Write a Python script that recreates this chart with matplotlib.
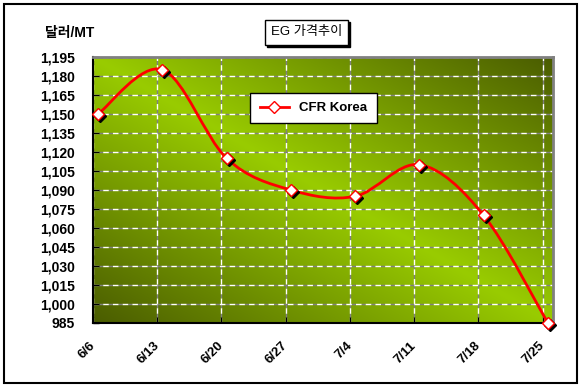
import numpy as np
import matplotlib.pyplot as plt
from matplotlib.path import Path
from matplotlib.patches import PathPatch, Rectangle
from matplotlib.lines import Line2D
from matplotlib.transforms import offset_copy, ScaledTranslation

plt.rcParams['font.family'] = ['Liberation Sans', 'Noto Sans CJK KR']

dates = ['6/6', '6/13', '6/20', '6/27', '7/4', '7/11', '7/18', '7/25']
cfr_korea = [1150, 1185, 1115, 1090, 1085, 1110, 1070, 985]
y_ticks = list(range(985, 1196, 15))

W, H = 584, 388


def box(x0, y0, x1, y1):
    # pixel box (top-left origin) -> figure fraction rect
    return (x0 / W, 1 - y1 / H), (x1 - x0) / W, (y1 - y0) / H


fig = plt.figure(figsize=(W / 100, H / 100), dpi=100)
ax = fig.add_axes([93 / W, 1 - 323 / H, 460 / W, 266 / H])

xlim = (-0.08, 7.08)
ylim = (y_ticks[0], y_ticks[-1])

# diagonal gradient background
gx, gy = np.meshgrid(np.linspace(0, 1, 300), np.linspace(0, 1, 300))
t = np.abs(gx - gy)[..., None]
bright = np.array([153, 204, 0]) / 255
dark = np.array([74, 92, 0]) / 255
img = bright * (1 - t) + dark * t
ax.imshow(img, extent=[xlim[0], xlim[1], ylim[0], ylim[1]], aspect='auto',
          origin='upper', zorder=0, interpolation='bilinear')

# smoothed line (bezier through the points)
xs = np.arange(len(cfr_korea))
pts = np.column_stack([xs, np.array(cfr_korea, float)])
verts = [pts[0]]
codes = [Path.MOVETO]
n = len(pts)
for i in range(n - 1):
    p0, p1, p2, p3 = pts[max(i - 1, 0)], pts[i], pts[i + 1], pts[min(i + 2, n - 1)]
    verts += [p1 + (p2 - p0) / 6, p2 - (p3 - p1) / 6, p2]
    codes += [Path.CURVE4] * 3
ax.add_patch(PathPatch(Path(verts, codes), fill=False, ec='#ff0000', lw=2,
                       zorder=3, clip_on=False))

shadow = offset_copy(ax.transData, fig=fig, x=2, y=-2, units='dots')
ax.plot(xs, cfr_korea, 'D', ms=6.5, color='black', transform=shadow,
        zorder=4, clip_on=False)
ax.plot(xs, cfr_korea, 'D', ms=6.5, mfc='white', mec='#ff0000', mew=1,
        zorder=5, clip_on=False)

ax.set_xlim(xlim)
ax.set_ylim(ylim)
ax.set_yticks(y_ticks)
ax.set_yticklabels([f'{v:,}' for v in y_ticks], fontsize=10, fontweight='bold')
ax.set_xticks(xs - 0.08)
ax.set_xticklabels(dates, fontsize=9.5, fontweight='bold', rotation=45,
                   ha='right', va='center', rotation_mode='anchor')
shift = ScaledTranslation(-7 / 100, 0, fig.dpi_scale_trans)
for lab in ax.get_xticklabels():
    lab.set_transform(lab.get_transform() + shift)
ax.tick_params(axis='y', direction='in', length=4, pad=13, width=1)
ax.tick_params(axis='x', direction='in', length=4, pad=15, width=1)

ax.grid(True, color='white', ls=(0, (4, 3)), lw=1, gapcolor='#808080', zorder=1)
ax.set_axisbelow(True)
for s in ['left', 'bottom']:
    ax.spines[s].set_color('black')
    ax.spines[s].set_linewidth(1.5)
for s in ['top', 'right']:
    ax.spines[s].set_color('#808080')
    ax.spines[s].set_linewidth(2)

handle = Line2D([], [], color='#ff0000', lw=2, marker='D', ms=6, mfc='white',
                mec='#ff0000')
leg = ax.legend([handle], ['CFR Korea'], loc='center',
                bbox_to_anchor=((247 + 380) / 2 / W, 1 - 108 / H),
                bbox_transform=fig.transFigure, fancybox=False, framealpha=1,
                edgecolor='black', handlelength=2.2, borderpad=0.7,
                prop={'size': 9.5, 'weight': 'bold'})
leg.get_frame().set_linewidth(1)

# title box with shadow
xy, w, h = box(267, 22, 350, 47)
fig.add_artist(Rectangle(xy, w, h, transform=fig.transFigure, fc='black', ec='black'))
xy, w, h = box(265, 20, 348, 45)
fig.add_artist(Rectangle(xy, w, h, transform=fig.transFigure, fc='white', ec='black', lw=1))
fig.text(306.5 / W, 1 - 32.5 / H, 'EG 가격추이', ha='center', va='center', fontsize=9.5,
         fontweight='medium')

fig.text(45 / W, 1 - 33 / H, '달러/MT', ha='left', va='center', fontsize=10,
         fontweight='bold')

# outer frame
xy, w, h = box(4, 4, 577, 383)
fig.add_artist(Rectangle(xy, w, h, transform=fig.transFigure, fill=False,
                         ec='black', lw=1.5))

fig.savefig('out.png', dpi=100)
